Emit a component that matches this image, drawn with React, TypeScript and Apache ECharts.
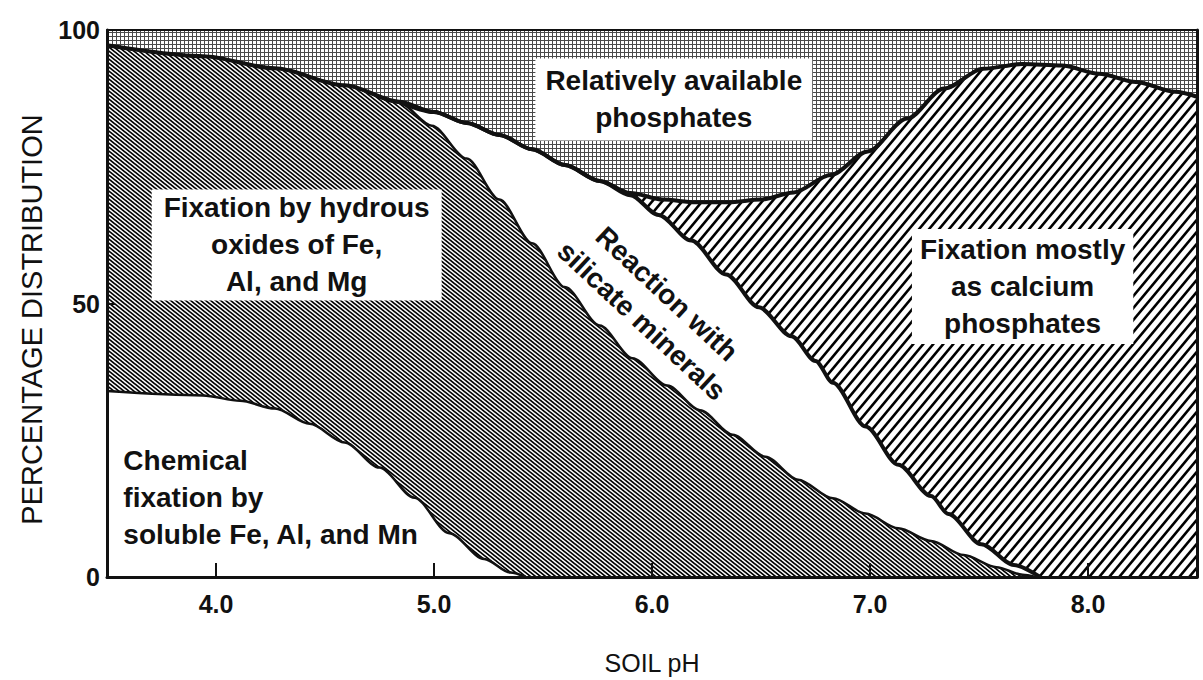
import React, { useEffect, useRef } from "react";
import * as echarts from "echarts";

// ---- Data (soil pH vs. cumulative percentage distribution) ----
const X_TICKS = [4, 5, 6, 7, 8];

// Top of "Relatively available phosphates" (the whole 100 %)
const PH_AVAILABLE = [3.5, 8.5];
const AVAILABLE_TOP = [100, 100];

// Upper boundary of all fixed forms (top of calcium-phosphate fixation band)
const PH_TOTAL = [3.5, 3.94, 4.27, 4.59, 4.84, 5.0, 5.15, 5.3, 5.45, 5.6, 5.76, 5.9, 6.05, 6.2, 6.35, 6.5, 6.65, 6.82, 6.99, 7.17, 7.34, 7.52, 7.7, 7.88, 8.05, 8.22, 8.4, 8.5];
const TOTAL_TOP = [97.2, 95.2, 93.0, 89.9, 86.9, 85.0, 83.0, 80.8, 78.2, 75.3, 72.4, 70.2, 69.0, 68.5, 68.5, 69.0, 70.3, 73.5, 77.8, 83.8, 89.3, 92.9, 93.8, 93.5, 92.0, 90.5, 88.7, 87.8];

// Upper boundary of "Reaction with silicate minerals"
const PH_SILICATE = [4.84, 5.0, 5.15, 5.3, 5.45, 5.6, 5.76, 5.9, 6.03, 6.18, 6.34, 6.49, 6.64, 6.75, 6.83, 6.98, 7.13, 7.28, 7.36, 7.51, 7.66, 7.78];
const SILICATE_TOP = [86.9, 85.0, 83.0, 80.8, 78.2, 75.3, 72.4, 69.8, 66.2, 61.5, 55.3, 49.3, 44.0, 39.5, 35.5, 27.5, 20.5, 14.8, 11.5, 6.0, 2.2, 0];

// Upper boundary of "Fixation by hydrous oxides of Fe, Al, and Mg"
const PH_HYDROUS = [3.5, 3.94, 4.27, 4.59, 4.84, 4.99, 5.15, 5.3, 5.45, 5.6, 5.76, 5.91, 6.07, 6.22, 6.37, 6.52, 6.67, 6.83, 6.98, 7.13, 7.28, 7.43, 7.58, 7.7, 7.76];
const HYDROUS_TOP = [97.2, 95.2, 93.0, 89.9, 86.7, 82.5, 76.5, 69.0, 61.0, 53.0, 46.0, 40.0, 35.0, 30.5, 26.0, 22.0, 17.8, 14.4, 11.6, 8.9, 6.6, 4.0, 1.8, 0.4, 0];

// Upper boundary of "Chemical fixation by soluble Fe, Al, and Mn"
const PH_CHEMICAL = [3.5, 3.94, 4.11, 4.27, 4.43, 4.59, 4.75, 4.91, 5.07, 5.23, 5.35, 5.42];
const CHEMICAL_TOP = [34.0, 33.2, 32.2, 30.8, 28.0, 24.6, 20.0, 14.5, 8.0, 3.3, 0.8, 0];

// Region labels and their anchor points (pH, %)
const LABEL_AVAILABLE = "Relatively available\nphosphates";
const LABEL_HYDROUS = "Fixation by hydrous\noxides of Fe,\nAl, and Mg";
const LABEL_CALCIUM = "Fixation mostly\nas calcium\nphosphates";
const LABEL_CHEMICAL = "Chemical\nfixation by\nsoluble Fe, Al, and Mn";
const LABEL_SILICATE = "Reaction with\nsilicate minerals";
const ANCHOR_AVAILABLE = [6.1, 87.3];
const ANCHOR_HYDROUS = [4.37, 60.7];
const ANCHOR_CALCIUM = [7.7, 53.1];
const ANCHOR_CHEMICAL = [3.575, 14.5];
const ANCHOR_SILICATE = [6.01, 49.3];

const FONT = '"Liberation Sans", Arial, sans-serif';
const INK = "#111";

const zip = (xs: number[], ys: number[]) => xs.map((x, i) => [x, ys[i]]);

function makePattern(w: number, h: number, draw: (ctx: CanvasRenderingContext2D) => void) {
  const c = document.createElement("canvas");
  c.width = w;
  c.height = h;
  const ctx = c.getContext("2d")!;
  ctx.fillStyle = "#fff";
  ctx.fillRect(0, 0, w, h);
  draw(ctx);
  return { image: c.toDataURL(), repeat: "repeat", imageWidth: w, imageHeight: h };
}

export default function App() {
  const ref = useRef<HTMLDivElement>(null);

  useEffect(() => {
    if (!ref.current) return;
    const chart = echarts.init(ref.current, undefined, { renderer: "svg" });

    const dots = makePattern(4, 4, (ctx) => {
      ctx.fillStyle = "#4a4a4a";
      ctx.fillRect(0, 0, 4, 1);
      ctx.fillRect(0, 0, 1, 4);
    });
    const HW = 5, HH = 4;
    const hydrousHatch = makePattern(HW, HH, (ctx) => {
      ctx.strokeStyle = "#000";
      ctx.lineWidth = 1.7;
      for (let k = -3; k <= 3; k++) {
        ctx.beginPath();
        ctx.moveTo(-HW, -HH + k * HH);
        ctx.lineTo(2 * HW, 2 * HH + k * HH);
        ctx.stroke();
      }
    });
    const CW = 10, CH = 12;
    const calciumHatch = makePattern(CW, CH, (ctx) => {
      ctx.strokeStyle = "#000";
      ctx.lineWidth = 2.6;
      for (let k = -3; k <= 3; k++) {
        ctx.beginPath();
        ctx.moveTo(-CW, CH + k * CH);
        ctx.lineTo(2 * CW, -2 * CH + k * CH);
        ctx.stroke();
      }
    });

    const base = {
      type: "line",
      showSymbol: false,
      symbol: "none",
      smooth: 0.3,
      smoothMonotone: "x",
      silent: true,
      emphasis: { disabled: true },
    };
    const area = (name: string, xs: number[], ys: number[], color: any) => ({
      ...base,
      name,
      data: zip(xs, ys),
      lineStyle: { width: 0, opacity: 0 },
      areaStyle: { color, opacity: 1 },
    });
    const edge = (name: string, xs: number[], ys: number[], width: number) => ({
      ...base,
      name,
      data: zip(xs, ys),
      lineStyle: { color: INK, width },
    });

    const axisLine = { show: true, onZero: false, lineStyle: { color: INK, width: 3 } };

    chart.setOption({
      animation: false,
      backgroundColor: "#fff",
      grid: { left: 107, right: 6, top: 30, bottom: 99 },
      xAxis: [
        {
          type: "value",
          min: 3.5,
          max: 8.5,
          z: 10,
          axisLine,
          axisTick: { show: true, inside: true, length: 14, customValues: X_TICKS, lineStyle: { color: INK, width: 2 } },
          axisLabel: {
            customValues: X_TICKS,
            formatter: (v: number) => v.toFixed(1),
            fontSize: 25,
            fontWeight: "bold",
            color: INK,
            fontFamily: FONT,
            margin: 14,
          },
          splitLine: { show: false },
          name: "SOIL pH",
          nameLocation: "middle",
          nameGap: 73,
          nameTextStyle: { fontSize: 25, color: INK, fontFamily: FONT },
        },
        {
          type: "value",
          position: "top",
          min: 3.5,
          max: 8.5,
          z: 10,
          axisLine: { ...axisLine, lineStyle: { color: INK, width: 2 } },
          axisTick: { show: false },
          axisLabel: { show: false },
          splitLine: { show: false },
        },
      ],
      yAxis: [
        {
          type: "value",
          min: 0,
          max: 100,
          interval: 50,
          z: 10,
          axisLine,
          axisTick: { show: true, inside: true, length: 8, lineStyle: { color: INK, width: 2 } },
          axisLabel: { fontSize: 25, fontWeight: "bold", color: INK, fontFamily: FONT, margin: 7 },
          splitLine: { show: false },
          name: "PERCENTAGE DISTRIBUTION",
          nameLocation: "middle",
          nameGap: 61,
          nameTextStyle: { fontSize: 29, color: INK, fontFamily: FONT, padding: [0, 32, 0, 0] },
        },
        {
          type: "value",
          position: "right",
          min: 0,
          max: 100,
          z: 10,
          axisLine,
          axisTick: { show: false },
          axisLabel: { show: false },
          splitLine: { show: false },
        },
      ],
      series: [
        { ...area("Relatively available phosphates", PH_AVAILABLE, AVAILABLE_TOP, dots), smooth: false },
        area("Fixation mostly as calcium phosphates", PH_TOTAL, TOTAL_TOP, calciumHatch),
        area("Reaction with silicate minerals", PH_SILICATE, SILICATE_TOP, "#fff"),
        area("Fixation by hydrous oxides of Fe, Al, and Mg", PH_HYDROUS, HYDROUS_TOP, hydrousHatch),
        area("Chemical fixation by soluble Fe, Al, and Mn", PH_CHEMICAL, CHEMICAL_TOP, "#fff"),
        edge("Chemical fixation boundary", PH_CHEMICAL, CHEMICAL_TOP, 2.5),
        edge("Hydrous oxides boundary", PH_HYDROUS, HYDROUS_TOP, 2.5),
        edge("Silicate boundary", PH_SILICATE, SILICATE_TOP, 4),
        edge("Total fixation boundary", PH_TOTAL, TOTAL_TOP, 4),
      ],
    });

    const px = (p: number[]) => chart.convertToPixel({ xAxisIndex: 0, yAxisIndex: 0 }, p) as number[];
    const textStyle = {
      fontSize: 28,
      fontWeight: "bold",
      fontFamily: FONT,
      fill: INK,
      lineHeight: 37,
    };
    const boxed = (text: string, anchor: number[], padding: number[]) => {
      const [x, y] = px(anchor);
      return {
        type: "text",
        x,
        y,
        z: 100,
        silent: true,
        style: {
          ...textStyle,
          text,
          align: "center",
          verticalAlign: "middle",
          backgroundColor: "#fff",
          padding,
        },
      };
    };
    const [cx, cy] = px(ANCHOR_CHEMICAL);
    const [sx, sy] = px(ANCHOR_SILICATE);

    chart.setOption({
      graphic: [
        boxed(LABEL_AVAILABLE, ANCHOR_AVAILABLE, [4, 10]),
        boxed(LABEL_HYDROUS, ANCHOR_HYDROUS, [0, 12]),
        boxed(LABEL_CALCIUM, ANCHOR_CALCIUM, [2, 8]),
        {
          type: "text",
          x: cx,
          y: cy,
          z: 100,
          silent: true,
          style: { ...textStyle, text: LABEL_CHEMICAL, align: "left", verticalAlign: "middle" },
        },
        {
          type: "text",
          x: sx,
          y: sy,
          z: 100,
          rotation: -0.75,
          silent: true,
          style: { ...textStyle, text: LABEL_SILICATE, align: "center", verticalAlign: "middle" },
        },
      ],
    });

    return () => chart.dispose();
  }, []);

  return (
    <div
      ref={ref}
      style={{ position: "fixed", left: 0, top: 0, width: 1203, height: 680, background: "#fff" }}
    />
  );
}
